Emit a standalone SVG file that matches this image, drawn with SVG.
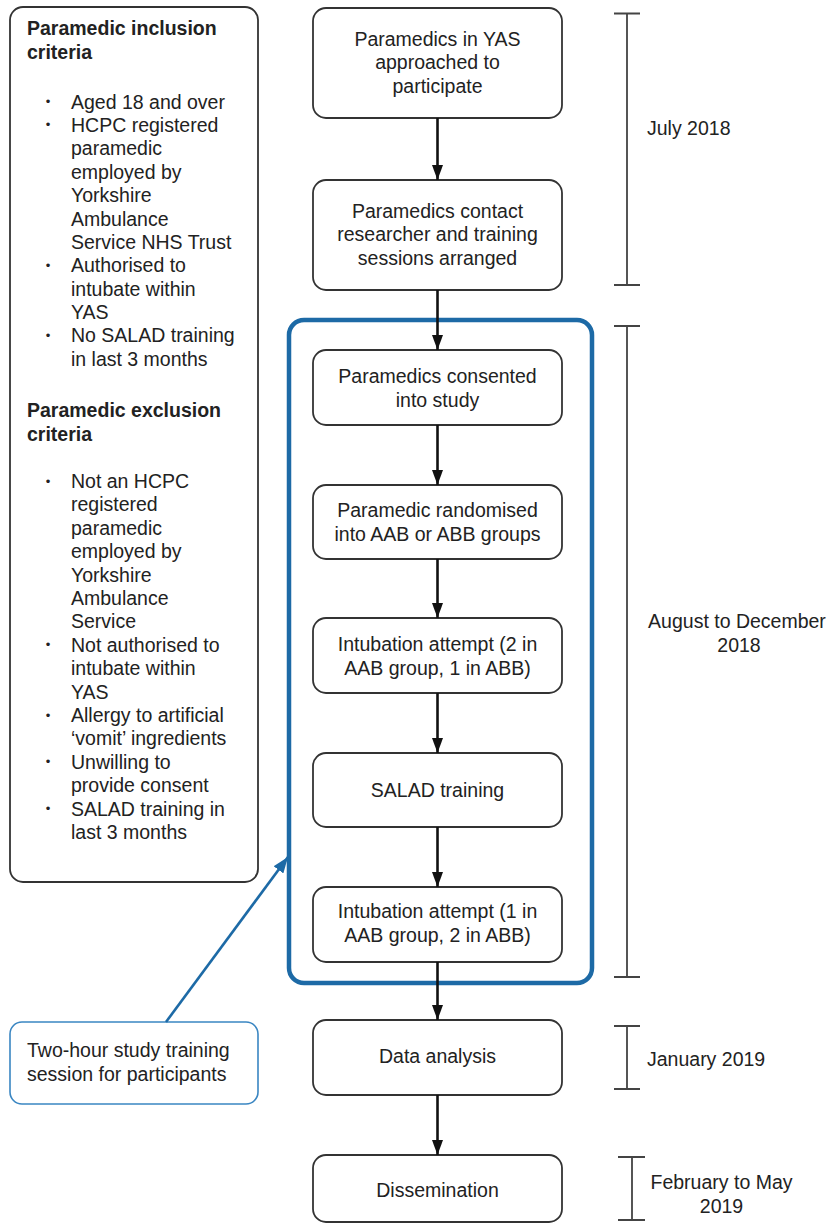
<svg xmlns="http://www.w3.org/2000/svg" width="832" height="1225" viewBox="0 0 832 1225">
<defs>
<style>
text{font-family:"Liberation Sans",Arial,Helvetica,sans-serif;font-size:19.5px;fill:#222}
.c{text-anchor:middle}
.b{font-weight:bold}
.dot{font-size:13px}
.box{fill:#fff;stroke:#333;stroke-width:1.8}
.blue{fill:none;stroke:#1d6aa6;stroke-width:4.5}
.callout{fill:#fff;stroke:#3a86c2;stroke-width:1.6}
.br{stroke:#444;stroke-width:1.8;fill:none}
.arr{stroke:#111;stroke-width:2.6;fill:none;marker-end:url(#ah)}
.barr{stroke:#1d6aa6;stroke-width:2.6;fill:none;marker-end:url(#bh)}
</style>
<marker id="ah" viewBox="0 0 15 11" refX="15" refY="5.5" markerWidth="15" markerHeight="11" markerUnits="userSpaceOnUse" orient="auto">
<path d="M0,0 L15,5.5 L0,11 Z" fill="#111"/>
</marker>
<marker id="bh" viewBox="0 0 16 12" refX="16" refY="6" markerWidth="16" markerHeight="12" markerUnits="userSpaceOnUse" orient="auto">
<path d="M0,0 L16,6 L0,12 Z" fill="#1d6aa6"/>
</marker>
</defs>
<rect width="832" height="1225" fill="#fff"/>

<g id="criteria">
<rect class="box" x="10" y="7" width="248" height="875" rx="13"/>
<text class="b" x="27" y="35">Paramedic inclusion<tspan x="27" dy="24">criteria</tspan></text>
<text class="c dot"><tspan x="48" y="106">•</tspan><tspan x="48" y="129.4">•</tspan><tspan x="48" y="269.8">•</tspan><tspan x="48" y="340">•</tspan></text>
<text x="71" y="108.5">Aged 18 and over<tspan x="71" dy="23.4">HCPC registered</tspan><tspan x="71" dy="23.4">paramedic</tspan><tspan x="71" dy="23.4">employed by</tspan><tspan x="71" dy="23.4">Yorkshire</tspan><tspan x="71" dy="23.4">Ambulance</tspan><tspan x="71" dy="23.4">Service NHS Trust</tspan><tspan x="71" dy="23.4">Authorised to</tspan><tspan x="71" dy="23.4">intubate within</tspan><tspan x="71" dy="23.4">YAS</tspan><tspan x="71" dy="23.4">No SALAD training</tspan><tspan x="71" dy="23.4">in last 3 months</tspan></text>
<text class="b" x="27" y="417">Paramedic exclusion<tspan x="27" dy="24">criteria</tspan></text>
<text class="c dot"><tspan x="48" y="485.5">•</tspan><tspan x="48" y="649.3">•</tspan><tspan x="48" y="719.5">•</tspan><tspan x="48" y="766.3">•</tspan><tspan x="48" y="813.1">•</tspan></text>
<text x="71" y="488">Not an HCPC<tspan x="71" dy="23.4">registered</tspan><tspan x="71" dy="23.4">paramedic</tspan><tspan x="71" dy="23.4">employed by</tspan><tspan x="71" dy="23.4">Yorkshire</tspan><tspan x="71" dy="23.4">Ambulance</tspan><tspan x="71" dy="23.4">Service</tspan><tspan x="71" dy="23.4">Not authorised to</tspan><tspan x="71" dy="23.4">intubate within</tspan><tspan x="71" dy="23.4">YAS</tspan><tspan x="71" dy="23.4">Allergy to artificial</tspan><tspan x="71" dy="23.4">‘vomit’ ingredients</tspan><tspan x="71" dy="23.4">Unwilling to</tspan><tspan x="71" dy="23.4">provide consent</tspan><tspan x="71" dy="23.4">SALAD training in</tspan><tspan x="71" dy="23.4">last 3 months</tspan></text>
</g>

<g id="study-group">
<rect class="blue" x="289" y="320" width="303" height="663" rx="15"/>
</g>

<g id="n1">
<rect class="box" x="313" y="8" width="249" height="110" rx="13"/>
<text class="c" x="437.5" y="45.5">Paramedics in YAS<tspan x="437.5" dy="23.5">approached to</tspan><tspan x="437.5" dy="23.5">participate</tspan></text>
</g>
<g id="n2">
<rect class="box" x="313" y="180" width="249" height="110" rx="13"/>
<text class="c" x="437.5" y="217.5">Paramedics contact<tspan x="437.5" dy="23.5">researcher and training</tspan><tspan x="437.5" dy="23.5">sessions arranged</tspan></text>
</g>
<g id="n3">
<rect class="box" x="313" y="350" width="249" height="75" rx="13"/>
<text class="c" x="437.5" y="383">Paramedics consented<tspan x="437.5" dy="23.5">into study</tspan></text>
</g>
<g id="n4">
<rect class="box" x="313" y="485" width="249" height="74" rx="13"/>
<text class="c" x="437.5" y="517">Paramedic randomised<tspan x="437.5" dy="23.5">into AAB or ABB groups</tspan></text>
</g>
<g id="n5">
<rect class="box" x="313" y="618" width="249" height="75" rx="13"/>
<text class="c" x="437.5" y="651">Intubation attempt (2 in<tspan x="437.5" dy="23.5">AAB group, 1 in ABB)</tspan></text>
</g>
<g id="n6">
<rect class="box" x="313" y="753" width="249" height="74" rx="13"/>
<text class="c" x="437.5" y="797">SALAD training</text>
</g>
<g id="n7">
<rect class="box" x="313" y="887" width="249" height="75" rx="13"/>
<text class="c" x="437.5" y="918">Intubation attempt (1 in<tspan x="437.5" dy="23.5">AAB group, 2 in ABB)</tspan></text>
</g>
<g id="n8">
<rect class="box" x="313" y="1020" width="249" height="75" rx="13"/>
<text class="c" x="437.5" y="1063">Data analysis</text>
</g>
<g id="n9">
<rect class="box" x="313" y="1155" width="249" height="67" rx="13"/>
<text class="c" x="437.5" y="1197">Dissemination</text>
</g>

<g id="callout">
<rect class="callout" x="10" y="1022" width="248" height="82" rx="12"/>
<text x="27" y="1057">Two-hour study training<tspan x="27" dy="23.5">session for participants</tspan></text>
</g>

<g id="timeline">
<path class="br" d="M614,13.5H640M627,13.5V285M614,285H640"/>
<text x="647" y="135">July 2018</text>
<path class="br" d="M614,326H640M627,326V977M614,977H640"/>
<text class="c" x="737" y="628">August to December<tspan x="739" dy="24">2018</tspan></text>
<path class="br" d="M614,1026H640M627,1026V1089M614,1089H640"/>
<text x="647" y="1066">January 2019</text>
<path class="br" d="M618,1157H645M632,1157V1220M618,1220H645"/>
<text class="c" x="721.5" y="1189">February to May<tspan x="721.5" dy="23.5">2019</tspan></text>
</g>

<g id="connectors">
<line class="arr" x1="437.5" y1="118" x2="437.5" y2="180"/>
<line class="arr" x1="437.5" y1="290" x2="437.5" y2="350"/>
<line class="arr" x1="437.5" y1="425" x2="437.5" y2="485"/>
<line class="arr" x1="437.5" y1="559" x2="437.5" y2="618"/>
<line class="arr" x1="437.5" y1="693" x2="437.5" y2="753"/>
<line class="arr" x1="437.5" y1="827" x2="437.5" y2="887"/>
<line class="arr" x1="437.5" y1="962" x2="437.5" y2="1020"/>
<line class="arr" x1="437.5" y1="1095" x2="437.5" y2="1155"/>
<line class="barr" x1="166" y1="1022" x2="288" y2="857"/>
</g>
</svg>
